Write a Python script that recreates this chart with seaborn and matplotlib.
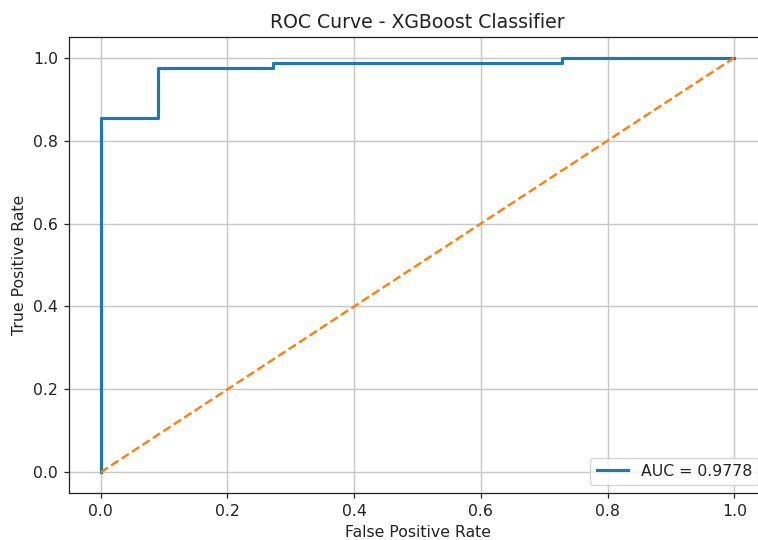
import matplotlib
matplotlib.use("Agg")
import matplotlib.pyplot as plt
import seaborn as sns
import pandas as pd

# ROC points
fpr = [0.0, 0.0, 0.0909, 0.0909, 0.2727, 0.2727, 0.7273, 0.7273, 1.0]
tpr = [0.0, 0.855, 0.855, 0.976, 0.976, 0.988, 0.988, 1.0, 1.0]
diag_x = [0.0, 1.0]
diag_y = [0.0, 1.0]
auc_label = "AUC = 0.9778"

roc = pd.DataFrame({"fpr": fpr, "tpr": tpr})
diag = pd.DataFrame({"x": diag_x, "y": diag_y})

# the screenshot is a bit enlarged, so scale fonts and lines up
s = 1.13
plt.rcParams["text.color"] = "#222222"
plt.rcParams["xtick.color"] = "#222222"
plt.rcParams["ytick.color"] = "#222222"
plt.rcParams["axes.labelcolor"] = "#222222"
plt.rcParams["axes.edgecolor"] = "#222222"

fig = plt.figure(figsize=(7.58, 5.4), dpi=100)
ax = fig.add_axes([69 / 758, 47 / 540, 697 / 758, 456 / 540])

sns.lineplot(data=roc, x="fpr", y="tpr", sort=False, estimator=None,
             color="#1f77b4", linewidth=2 * s, label=auc_label, ax=ax)
sns.lineplot(data=diag, x="x", y="y", sort=False, estimator=None,
             color="#ff7f0e", linestyle="--", linewidth=1.5 * s, ax=ax)

ax.set_xlim(-0.05, 1.05)
ax.set_ylim(-0.05, 1.05)
ax.set_title("ROC Curve - XGBoost Classifier", fontsize=12 * s, pad=6 * s)
ax.set_xlabel("False Positive Rate", fontsize=10 * s, labelpad=4 * s)
ax.set_ylabel("True Positive Rate", fontsize=10 * s, labelpad=4 * s)
ax.tick_params(labelsize=10 * s, length=3.5 * s, width=0.8 * s, pad=3.5 * s)
for sp in ax.spines.values():
    sp.set_linewidth(0.8 * s)
ax.grid(True, color="#c8c8c8", linewidth=0.9 * s)
ax.legend(loc="lower right", fontsize=10 * s)

fig.savefig("out.png", dpi=100)
